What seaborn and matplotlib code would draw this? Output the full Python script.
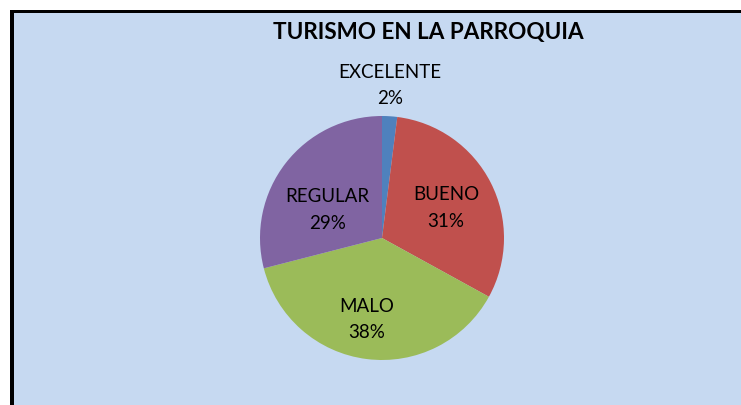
import matplotlib
matplotlib.use("Agg")
import matplotlib.pyplot as plt
import matplotlib.patches as mpatches
import numpy as np
import seaborn as sns

# Survey answers for tourism in the parish
categories = ["EXCELENTE", "BUENO", "MALO", "REGULAR"]
percent = [2, 31, 38, 29]
colors = ["#4F81BD", "#C0504D", "#9BBB59", "#8064A2"]

# label placement: radial distance and angle tweak (degrees) per slice
label_dist = [1.25, 0.58, 0.68, 0.505]
label_turn = [0.5, -1.9, -3.2, 10.8]

sns.set_theme(style="white")
plt.rcParams['font.family'] = ['Lato', 'DejaVu Sans']

W, H = 741, 405
fig = plt.figure(figsize=(W / 100, H / 100), dpi=100)
fig.patch.set_facecolor("white")

# chart area background with black frame on top/left
fig.patches.append(mpatches.Rectangle((14 / W, 0), 1, 1 - 12 / H, transform=fig.transFigure,
                                      facecolor="#C6D9F1", edgecolor="none", zorder=-1))
fig.patches.append(mpatches.Rectangle((10 / W, 0), 4 / W, 1 - 10 / H, transform=fig.transFigure,
                                      facecolor="black", edgecolor="none", zorder=1))
fig.patches.append(mpatches.Rectangle((10 / W, 1 - 13 / H), 1, 3 / H, transform=fig.transFigure,
                                      facecolor="black", edgecolor="none", zorder=1))

cx, cy, r = 382, H - 238, 122
ax = fig.add_axes([(cx - r) / W, (cy - r) / H, 2 * r / W, 2 * r / H])
ax.set_axis_off()

wedges, _ = ax.pie(percent, colors=sns.color_palette(colors), startangle=90, counterclock=False,
                   radius=1, wedgeprops=dict(linewidth=0))
ax.set_xlim(-1, 1)
ax.set_ylim(-1, 1)

for w, name, p, d, t in zip(wedges, categories, percent, label_dist, label_turn):
    ang = np.deg2rad((w.theta1 + w.theta2) / 2 + t)
    ax.text(d * np.cos(ang), d * np.sin(ang), f"{name}\n{p}%", ha="center", va="center",
            fontsize=13.5, color="black", linespacing=1.65, clip_on=False)

fig.text(428 / W, 1 - 32 / H, "TURISMO EN LA PARROQUIA", ha="center", va="center",
         fontsize=16.2, fontweight="bold", color="black")

fig.savefig("out.png", dpi=100)
